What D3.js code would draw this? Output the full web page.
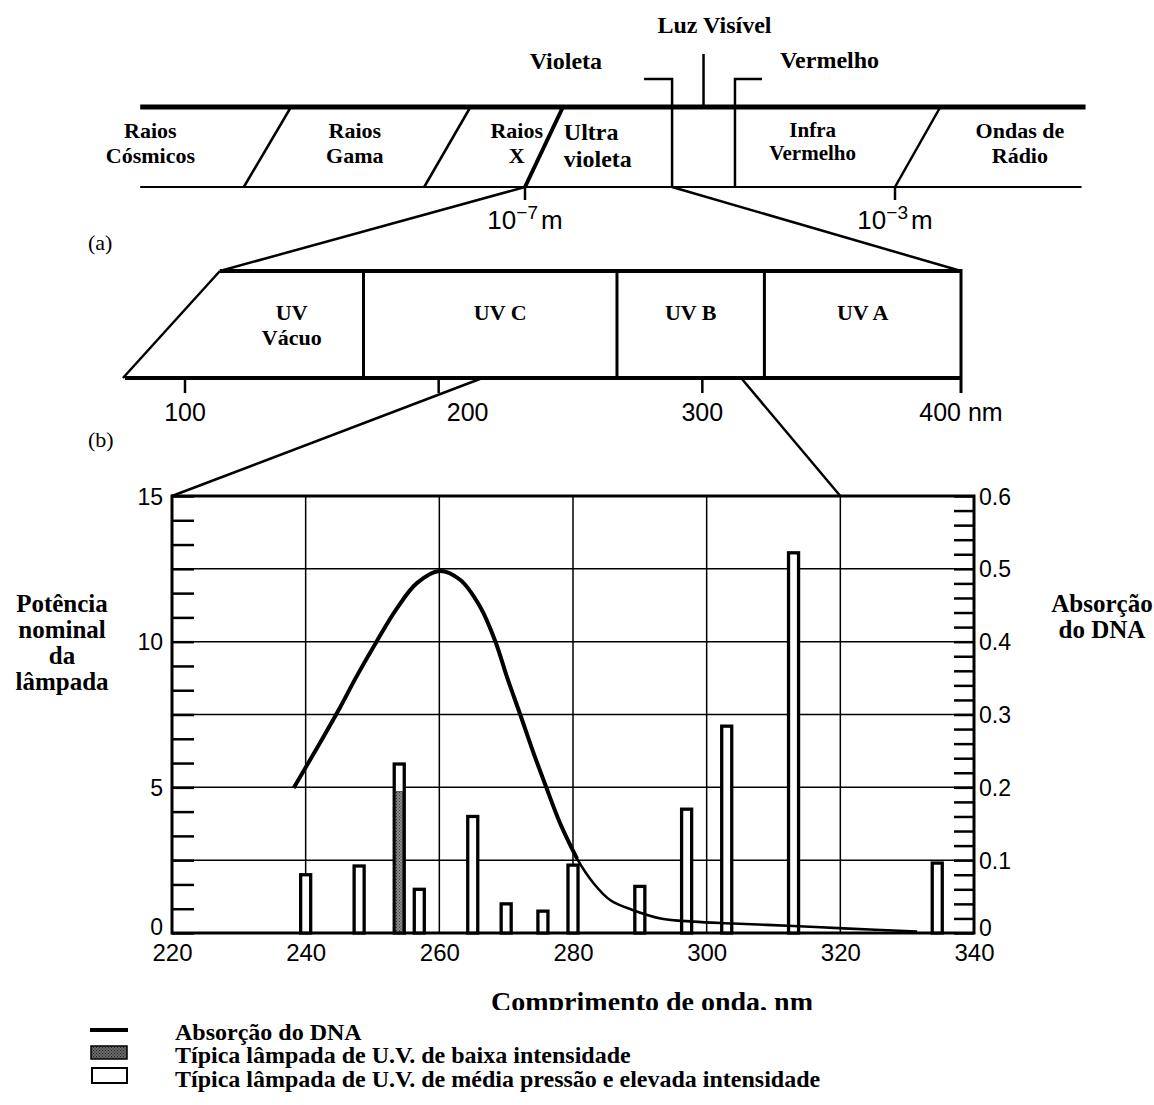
<!DOCTYPE html>
<html>
<head>
<meta charset="utf-8">
<script src="https://cdn.jsdelivr.net/npm/d3@7"></script>
<style>
body { margin: 0; background: #fff; }
svg { display: block; }
.serif { font-family: "Liberation Serif", "Times New Roman", serif; font-weight: bold; }
.plain { font-family: "Liberation Serif", "Times New Roman", serif; }
.sans { font-family: "Liberation Sans", Arial, sans-serif; }
</style>
</head>
<body>
<svg id="chart" width="1154" height="1105"></svg>
<script>
// lamp lines (medium pressure), power in W
var lampWavelength = [240, 248, 254, 257, 265, 270, 275.5, 280, 290, 297, 303, 313, 334.5];
var lampPower = [2.0, 2.3, 5.8, 1.5, 4.0, 1.0, 0.75, 2.33, 1.6, 4.25, 7.1, 13.05, 2.4];
// low intensity lamp
var lowWavelength = [254];
var lowPower = [4.85];
// DNA absorption curve
var dnaWavelength = [238.2, 242.2, 245.1, 247.6, 250.6, 253.6, 256.6, 260, 263.1, 266.1, 268.4, 270.1, 272.1,
  274.1, 275.8, 278.1, 280.6, 283.1, 285.6, 288.8, 293.1, 298, 304, 313, 320.5, 331.5];
var dnaAbsorption = [0.199, 0.262, 0.309, 0.352, 0.40, 0.445, 0.480, 0.497, 0.485, 0.448, 0.40, 0.352, 0.30,
  0.247, 0.205, 0.150, 0.102, 0.068, 0.045, 0.032, 0.020, 0.0156, 0.013, 0.0096, 0.0064, 0.002];
var xTicks = [220, 240, 260, 280, 300, 320, 340];
var powerTicks = [0, 5, 10, 15];
var absorptionTicks = [0, 0.1, 0.2, 0.3, 0.4, 0.5, 0.6];

// electromagnetic spectrum schematic (log10 of wavelength in m, as drawn)
var spectrumEnds = [-11.16, -0.94];
var spectrumSlants = [[-10.04, -9.53], [-8.09, -7.59], [-7.0, -6.59], [-3.0, -2.51]];
var visibleEdges = [-5.41, -4.73];
var visibleMid = -5.07;
var spectrumTicks = [-7, -3];
var spectrumNames = [["Raios", "Cósmicos"], ["Raios", "Gama"], ["Raios", "X"], ["Ultra", "violeta"], ["Infra", "Vermelho"], ["Ondas de", "Rádio"]];
var spectrumNameAt = [-11.05, -8.84, -7.09, -6.58, -3.89, -1.65];

// UV band (nm, as drawn)
var uvLeft = [76, 113.5];
var uvRight = 400;
var uvDividers = [169, 267, 324];
var uvNames = [["UV", "Vácuo"], ["UV C"], ["UV B"], ["UV A"]];
var uvTicks = [100, 200, 300, 400];
var uvZoom = [215, 315];

var svg = d3.select("#chart");

// ---------- (a) spectrum ----------
var sx = d3.scaleLinear().domain([-7, -3]).range([525, 895]);
var sTop = 107, sBot = 187;

var a = svg.append("g").attr("stroke", "#000").attr("fill", "none");
a.append("line").attr("x1", sx(spectrumEnds[0])).attr("x2", sx(spectrumEnds[1]))
  .attr("y1", sTop).attr("y2", sTop).attr("stroke-width", 5);
a.append("line").attr("x1", sx(spectrumEnds[0])).attr("x2", sx(spectrumEnds[1]) - 4)
  .attr("y1", sBot).attr("y2", sBot).attr("stroke-width", 2);
a.selectAll(".slant").data(spectrumSlants).enter().append("line")
  .attr("x1", function (d) { return sx(d[0]); }).attr("y1", sBot)
  .attr("x2", function (d) { return sx(d[1]); }).attr("y2", sTop)
  .attr("stroke-width", function (d, i) { return i === 2 ? 4 : 2.5; });
a.selectAll(".vis").data(visibleEdges).enter().append("path")
  .attr("d", function (d, i) {
    var x = sx(d), dx = i === 0 ? -28 : 27;
    return "M" + (x + dx) + ",79H" + x + "V" + sBot;
  }).attr("stroke-width", 2.5);
a.append("line").attr("x1", sx(visibleMid)).attr("x2", sx(visibleMid))
  .attr("y1", 54).attr("y2", sTop).attr("stroke-width", 2.5);
a.selectAll(".stick").data(spectrumTicks).enter().append("line")
  .attr("x1", function (d) { return sx(d); }).attr("x2", function (d) { return sx(d); })
  .attr("y1", sBot).attr("y2", 200).attr("stroke-width", 2.5);

var names = svg.selectAll(".sname").data(spectrumNames).enter().append("text")
  .attr("class", "serif")
  .attr("text-anchor", function (d, i) { return i === 3 ? "start" : "middle"; })
  .attr("font-size", function (d, i) { return i === 3 ? 24 : (i === 4 ? 21 : 22); });
names.selectAll("tspan").data(function (d, i) { return d.map(function (t) { return { t: t, i: i }; }); })
  .enter().append("tspan")
  .attr("x", function (d) { return sx(spectrumNameAt[d.i]); })
  .attr("y", function (d, j) {
    if (d.i === 3) return j === 0 ? 140 : 167;
    if (d.i === 4) return j === 0 ? 137 : 160;
    return j === 0 ? 138 : 163;
  })
  .text(function (d) { return d.t; });

svg.append("text").attr("class", "serif").attr("font-size", 24).attr("text-anchor", "middle")
  .attr("x", sx(visibleMid) + 11).attr("y", 33).text("Luz Visível");
svg.append("text").attr("class", "serif").attr("font-size", 24).attr("text-anchor", "end")
  .attr("x", sx(visibleEdges[0]) - 70).attr("y", 69).text("Violeta");
svg.append("text").attr("class", "serif").attr("font-size", 24).attr("text-anchor", "start")
  .attr("x", sx(visibleEdges[1]) + 45).attr("y", 68).text("Vermelho");

var powLabel = svg.selectAll(".pow").data(spectrumTicks).enter().append("text")
  .attr("class", "sans").attr("font-size", 26).attr("text-anchor", "middle")
  .attr("x", function (d) { return sx(d); }).attr("y", 229);
powLabel.append("tspan").text("10");
powLabel.append("tspan").attr("dy", -10).attr("font-size", 19).text(function (d) { return "\u2212" + Math.abs(d); });
powLabel.append("tspan").attr("dy", 10).attr("dx", 3).text("m");

svg.append("text").attr("class", "plain").attr("font-size", 22).attr("x", 88).attr("y", 250).text("(a)");
svg.append("text").attr("class", "plain").attr("font-size", 22).attr("x", 88).attr("y", 447).text("(b)");

// ---------- (b) UV band ----------
var ux = d3.scaleLinear().domain([100, 400]).range([185, 961]);
var uTop = 271, uBot = 378;
var b = svg.append("g").attr("stroke", "#000").attr("fill", "none");
// zoom lines from spectrum
b.append("line").attr("x1", sx(-7)).attr("y1", sBot).attr("x2", ux(uvLeft[1])).attr("y2", uTop).attr("stroke-width", 2.5);
b.append("line").attr("x1", sx(visibleEdges[0])).attr("y1", sBot).attr("x2", ux(uvRight)).attr("y2", uTop).attr("stroke-width", 2.5);
b.append("line").attr("x1", ux(uvLeft[1])).attr("x2", ux(uvRight)).attr("y1", uTop).attr("y2", uTop).attr("stroke-width", 4);
b.append("line").attr("x1", ux(uvLeft[0]) + 2).attr("x2", ux(uvRight)).attr("y1", uBot).attr("y2", uBot).attr("stroke-width", 4);
b.append("line").attr("x1", ux(uvLeft[0])).attr("y1", uBot).attr("x2", ux(uvLeft[1])).attr("y2", uTop).attr("stroke-width", 2.5);
b.selectAll(".div").data(uvDividers).enter().append("line")
  .attr("x1", function (d) { return ux(d); }).attr("x2", function (d) { return ux(d); })
  .attr("y1", uTop).attr("y2", uBot).attr("stroke-width", 3);
b.append("line").attr("x1", ux(uvRight)).attr("x2", ux(uvRight)).attr("y1", uTop - 2).attr("y2", 393).attr("stroke-width", 3);
b.selectAll(".utick").data(uvTicks.slice(0, 3)).enter().append("line")
  .attr("x1", function (d) { return ux(d) - (d === 200 ? 5 : 0); }).attr("x2", function (d) { return ux(d) - (d === 200 ? 5 : 0); })
  .attr("y1", uBot).attr("y2", 393).attr("stroke-width", 2.5);
svg.selectAll(".ulabel").data(uvTicks).enter().append("text")
  .attr("class", "sans").attr("font-size", 25).attr("text-anchor", "middle")
  .attr("x", function (d) { return ux(d) + (d === 200 ? 24 : 0); }).attr("y", 421)
  .text(function (d) { return d === 400 ? d + " nm" : d; });

var uvBounds = [uvLeft[1]].concat(uvDividers, [uvRight]);
var uvText = svg.selectAll(".uvname").data(uvNames).enter().append("text")
  .attr("class", "serif").attr("font-size", 22).attr("text-anchor", "middle");
uvText.selectAll("tspan").data(function (d, i) { return d.map(function (t) { return { t: t, i: i }; }); })
  .enter().append("tspan")
  .attr("x", function (d) { return (ux(uvBounds[d.i]) + ux(uvBounds[d.i + 1])) / 2 + (d.i === 1 ? 10 : 0); })
  .attr("y", function (d, j) { return j === 0 ? 320 : 345; })
  .text(function (d) { return d.t; });

// ---------- (c) lamp chart ----------
var x = d3.scaleLinear().domain([220, 340]).range([172, 974]);
var y = d3.scaleLinear().domain([0, 15]).range([933, 496]);
var y2 = d3.scaleLinear().domain([0, 0.6]).range([933, 496]);

// zoom lines from UV band
b.append("line").attr("x1", ux(uvZoom[0])).attr("y1", uBot).attr("x2", x(220)).attr("y2", y(15)).attr("stroke-width", 2.5);
b.append("line").attr("x1", ux(uvZoom[1])).attr("y1", uBot).attr("x2", x(320)).attr("y2", y(15)).attr("stroke-width", 2.5);

var c = svg.append("g");
var grid = c.append("g").attr("stroke", "#000").attr("stroke-width", 1.5);
grid.selectAll(".gx").data(xTicks.slice(1, -1)).enter().append("line")
  .attr("x1", function (d) { return x(d); }).attr("x2", function (d) { return x(d); })
  .attr("y1", y(15)).attr("y2", y(0));
grid.selectAll(".gy").data(d3.range(2.5, 15, 2.5)).enter().append("line")
  .attr("x1", x(220)).attr("x2", x(340))
  .attr("y1", function (d) { return y(d); }).attr("y2", function (d) { return y(d); });

// minor ticks, inside
c.append("g").attr("transform", "translate(" + x(220) + ",0)")
  .call(d3.axisRight(y).tickValues(d3.range(0, 15.01, 2.5 / 3)).tickSize(22).tickFormat(""))
  .call(function (g) { g.select(".domain").remove(); g.selectAll("line").attr("stroke-width", 2.5); });
c.append("g").attr("transform", "translate(" + x(340) + ",0)")
  .call(d3.axisLeft(y2).tickValues(d3.range(0, 0.601, 0.02)).tickSize(20).tickFormat(""))
  .call(function (g) { g.select(".domain").remove(); g.selectAll("line").attr("stroke-width", 2.5); });

// frame
c.append("rect").attr("x", x(220)).attr("y", y(15)).attr("width", x(340) - x(220)).attr("height", y(0) - y(15))
  .attr("fill", "none").attr("stroke", "#000").attr("stroke-width", 3);

// labels
c.append("g").attr("transform", "translate(" + x(220) + ",0)")
  .call(d3.axisLeft(y).tickValues(powerTicks).tickSize(0).tickPadding(9))
  .call(function (g) { g.select(".domain").remove(); g.selectAll("text").attr("class", "sans").attr("font-size", 23).attr("fill", "#000")
    .attr("dy", function (d) { return d === 0 ? "0.05em" : "0.35em"; }); });
c.append("g").attr("transform", "translate(" + x(340) + ",0)")
  .call(d3.axisRight(y2).tickValues(absorptionTicks).tickSize(0).tickPadding(5)
    .tickFormat(function (d) { return d === 0 ? "0" : d.toFixed(1); }))
  .call(function (g) { g.select(".domain").remove(); g.selectAll("text").attr("class", "sans").attr("font-size", 23).attr("fill", "#000")
    .attr("dy", function (d) { return d === 0 ? "0.1em" : "0.35em"; }); });
c.append("g").attr("transform", "translate(0," + y(0) + ")")
  .call(d3.axisBottom(x).tickValues(xTicks).tickSize(0).tickPadding(11))
  .call(function (g) { g.select(".domain").remove(); g.selectAll("text").attr("class", "sans").attr("font-size", 24).attr("fill", "#000"); });

// stipple patterns for low intensity lamp
var defs = svg.append("defs");
function stipple(id, base, dot) {
  var p = defs.append("pattern").attr("id", id).attr("width", 3).attr("height", 3).attr("patternUnits", "userSpaceOnUse");
  p.append("rect").attr("width", 3).attr("height", 3).attr("fill", base);
  p.append("rect").attr("width", 1).attr("height", 1).attr("fill", dot);
  p.append("rect").attr("x", 1.5).attr("y", 1.5).attr("width", 1).attr("height", 1).attr("fill", dot);
}
stipple("stip", "#8e8e8e", "#333");
stipple("stipDark", "#6a6a6a", "#222");

var halfW = 0.75;
c.selectAll(".bar").data(lampWavelength).enter().append("rect")
  .attr("x", function (d) { return x(d - halfW); })
  .attr("width", function (d) { return x(d + halfW) - x(d - halfW); })
  .attr("y", function (d, i) { return y(lampPower[i]); })
  .attr("height", function (d, i) { return y(0) - y(lampPower[i]); })
  .attr("fill", "#fff").attr("stroke", "#000").attr("stroke-width", 3.3);
c.selectAll(".low").data(lowWavelength).enter().append("rect")
  .attr("x", function (d) { return x(d - halfW) + 1.6; })
  .attr("width", function (d) { return x(d + halfW) - x(d - halfW) - 3.2; })
  .attr("y", function (d, i) { return y(lowPower[i]); })
  .attr("height", function (d, i) { return y(0) - y(lowPower[i]) - 1.6; })
  .attr("fill", "url(#stip)").attr("stroke", "#222").attr("stroke-width", 0.8);

// DNA absorption
var pts = dnaWavelength.map(function (w, i) { return [w, dnaAbsorption[i]]; });
var line = d3.line().x(function (d) { return x(d[0]); }).y(function (d) { return y2(d[1]); }).curve(d3.curveCatmullRom);
c.append("path").datum(pts.filter(function (d) { return d[0] <= 281; }))
  .attr("d", line).attr("fill", "none").attr("stroke", "#000").attr("stroke-width", 4);
c.append("path").datum(pts.filter(function (d) { return d[0] >= 278; }))
  .attr("d", line).attr("fill", "none").attr("stroke", "#000").attr("stroke-width", 2.6);

// axis titles
var leftTitle = ["Potência", "nominal", "da", "lâmpada"];
svg.append("text").attr("class", "serif").attr("font-size", 25).attr("text-anchor", "middle")
  .selectAll("tspan").data(leftTitle).enter().append("tspan")
  .attr("x", 62).attr("y", function (d, i) { return 612 + i * 26; }).text(function (d) { return d; });
var rightTitle = ["Absorção", "do DNA"];
svg.append("text").attr("class", "serif").attr("font-size", 25).attr("text-anchor", "middle")
  .selectAll("tspan").data(rightTitle).enter().append("tspan")
  .attr("x", 1102).attr("y", function (d, i) { return 612 + i * 26; }).text(function (d) { return d; });

defs.append("clipPath").attr("id", "cut").append("rect").attr("width", 1154).attr("height", 1010);
svg.append("text").attr("class", "serif").attr("font-size", 28).attr("text-anchor", "middle")
  .attr("clip-path", "url(#cut)")
  .attr("x", 652).attr("y", 1011).text("Comprimento de onda, nm");

// legend
var legendNames = ["Absorção do DNA", "Típica lâmpada de U.V. de baixa intensidade", "Típica lâmpada de U.V. de média pressão e elevada intensidade"];
var lg = svg.append("g");
lg.append("line").attr("x1", 90).attr("x2", 128).attr("y1", 1030).attr("y2", 1030).attr("stroke", "#000").attr("stroke-width", 4);
lg.append("rect").attr("x", 91).attr("y", 1046).attr("width", 36).attr("height", 13)
  .attr("fill", "url(#stipDark)").attr("stroke", "#000").attr("stroke-width", 1.5);
lg.append("rect").attr("x", 92).attr("y", 1068).attr("width", 35).attr("height", 15)
  .attr("fill", "#fff").attr("stroke", "#000").attr("stroke-width", 2);
lg.selectAll("text").data(legendNames).enter().append("text")
  .attr("class", "serif").attr("font-size", 24)
  .attr("x", 175).attr("y", function (d, i) { return [1040, 1063, 1087][i]; })
  .text(function (d) { return d; });
</script>
</body>
</html>
